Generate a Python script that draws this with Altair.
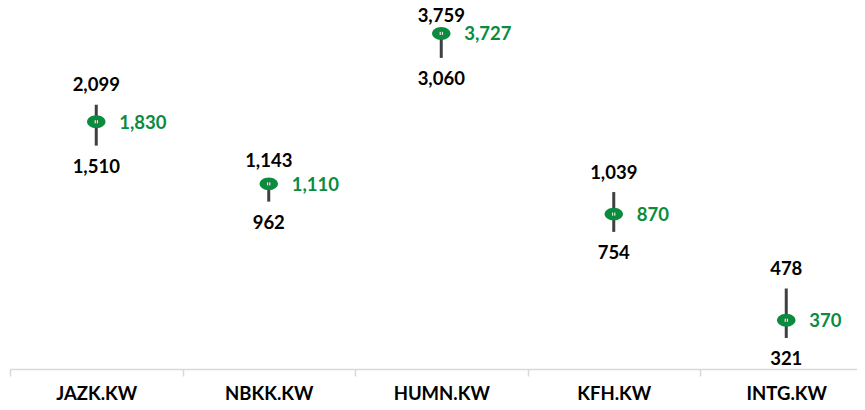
import json
import altair as alt
import pandas as pd

categories = ["JAZK.KW", "NBKK.KW", "HUMN.KW", "KFH.KW", "INTG.KW"]
high = [2099, 1143, 3759, 1039, 478]
low = [1510, 962, 3060, 754, 321]
close = [1830, 1110, 3727, 870, 370]

df = pd.DataFrame({
    "idx": list(range(len(categories))),
    "cat": categories,
    "high": high,
    "low": low,
    "close": close,
})

GREEN = "#0a8b3e"
DARK = "#404040"
FONT = "Lato"
FS = 18.5

band = 172.5
W = 847
x_dom = [-0.5, -0.5 + W / band]
tick_vals = [v / 2 for v in range(-1, 2 * len(categories) - 1)]
names_js = json.dumps(categories)

x_enc = alt.X(
    "idx:Q",
    scale=alt.Scale(domain=x_dom, nice=False, zero=False),
    axis=alt.Axis(
        values=tick_vals,
        labelExpr=f"datum.value % 1 === 0 ? {names_js}[datum.value] : ''",
        title=None,
        grid=False,
        domainColor="#d9d9d9",
        domainWidth=1.5,
        tickColor="#d9d9d9",
        tickWidth=1.5,
        tickSize=7,
        tickOpacity={"condition": {"test": "datum.value % 1 === 0", "value": 0}, "value": 1},
        labelFont=FONT,
        labelFontWeight="bold",
        labelFontSize=FS,
        labelColor="black",
        labelPadding=8,
        labelOverlap=False,
        labelFlush=False,
        labelBound=False,
    ),
)

y_scale = alt.Scale(type="log", domain=[250, 4500], nice=False)

base = alt.Chart(df).encode(x=x_enc)

rule = base.mark_rule(color=DARK, strokeWidth=3).encode(
    y=alt.Y("low:Q", scale=y_scale, axis=None), y2="high:Q"
)

ellipse = "M -1 0 A 1 0.7 0 1 0 1 0 A 1 0.7 0 1 0 -1 0 Z"
dot = base.mark_point(shape=ellipse, size=340, filled=True, color=GREEN, opacity=1, strokeWidth=0).encode(
    y=alt.Y("close:Q", scale=y_scale, axis=None)
)
center = base.mark_point(shape="square", size=10, filled=True, color="white", opacity=1).encode(
    y=alt.Y("close:Q", scale=y_scale, axis=None)
)
center_line = base.mark_point(shape="M 0 -1 L 0 1", size=16, filled=False, color=DARK, strokeWidth=1, opacity=1).encode(
    y=alt.Y("close:Q", scale=y_scale, axis=None)
)

txt = dict(font=FONT, fontWeight="bold", fontSize=FS)

high_lbl = base.mark_text(
    color="black", baseline="alphabetic", align="center",
    y=alt.expr("max(scale('y', datum.high) - 13.5, 12)"), **txt
).encode(text=alt.Text("high:Q", format=",d"))

low_lbl = base.mark_text(color="black", baseline="alphabetic", align="center", dy=27, **txt).encode(
    y=alt.Y("low:Q", scale=y_scale, axis=None), text=alt.Text("low:Q", format=",d")
)

close_lbl = base.mark_text(color=GREEN, baseline="middle", align="left", dx=23, dy=1, **txt).encode(
    y=alt.Y("close:Q", scale=y_scale, axis=None), text=alt.Text("close:Q", format=",d")
)

chart = alt.layer(rule, dot, center, center_line, high_lbl, low_lbl, close_lbl).properties(
    width=W,
    height=359,
    autosize=alt.AutoSizeParams(type="none"),
    padding={"left": 2, "top": 2, "right": 0, "bottom": 33},
).configure_view(stroke=None)

chart.save("out.html", embed_options={"renderer": "svg", "actions": False})
